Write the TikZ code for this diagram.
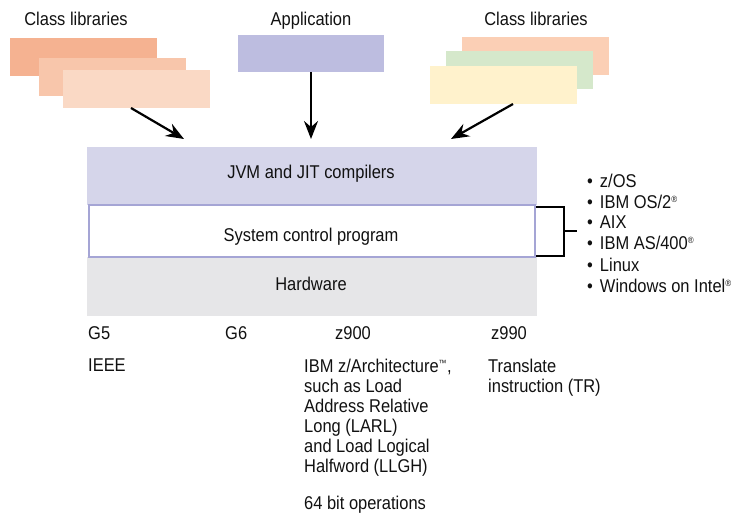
\documentclass[tikz,border=0pt]{standalone}
\usepackage{fontspec}
\setmainfont{Liberation Sans}[FakeStretch=0.89]
\usetikzlibrary{arrows.meta}
\definecolor{peachA}{HTML}{F5B291}
\definecolor{peachB}{HTML}{F8C6AB}
\definecolor{peachC}{HTML}{FAD9C5}
\definecolor{peachR}{HTML}{FBCFB5}
\definecolor{greenR}{HTML}{D5E8CB}
\definecolor{yellowR}{HTML}{FFF2CC}
\definecolor{appcol}{HTML}{BDBDE0}
\definecolor{jvmcol}{HTML}{D5D5EA}
\definecolor{hwcol}{HTML}{E6E6E8}
\definecolor{scpline}{HTML}{A5A5D5}
\definecolor{txt}{HTML}{111111}
\tikzset{
  lbl/.style={font=\fontsize{18.5}{20}\selectfont, text=txt, inner sep=0pt},
  arr/.style={line width=2.2pt, -{Stealth[length=18pt,width=14pt,inset=6pt]}},
  brk/.style={line width=2pt},
}
\newcommand{\regm}{\textsuperscript{\fontsize{9}{9}\selectfont ®}}
\newcommand{\tmk}{\textsuperscript{\fontsize{9}{9}\selectfont ™}}
\newcommand{\bul}{•\hspace{7pt}}
\begin{document}
\begin{tikzpicture}[x=1pt,y=-1pt]
\useasboundingbox (0,0) rectangle (740,513);
% left class libraries
\fill[peachA] (10,38) rectangle (157,76);
\fill[peachB] (39,58) rectangle (186,96);
\fill[peachC] (63,70) rectangle (210,108);
\coordinate (lsrc) at (131,108);
\node[lbl, anchor=base] (lcl) at (76,26) {Class libraries};
% application
\fill[appcol] (238,35) rectangle (384,72);
\coordinate (asrc) at (311,72);
\node[lbl, anchor=base] (app) at (311,26) {Application};
% right class libraries
\fill[peachR] (462,37) rectangle (609,75);
\fill[greenR] (446,51) rectangle (593,89);
\fill[yellowR] (430,66) rectangle (577,104);
\coordinate (rsrc) at (513,104);
\node[lbl, anchor=base] (rcl) at (536,26) {Class libraries};
% stack
\fill[jvmcol] (87,147) rectangle (537,205);
\fill[hwcol] (87,257) rectangle (537,316);
\draw[scpline, line width=2pt, fill=white] (89,205.5) rectangle (535,257.5);
\node[lbl, anchor=base] (jvm) at (311,179) {JVM and JIT compilers};
\node[lbl, anchor=base] (scp) at (311,242) {System control program};
\node[lbl, anchor=base] (hw) at (311,291) {Hardware};
\coordinate (lt) at (184,139);
\coordinate (at) at (311,139);
\coordinate (rt) at (451,139);
\draw[arr] (lsrc) -- (lt);
\draw[arr] (asrc) -- (at);
\draw[arr] (rsrc) -- (rt);
% bracket
\coordinate (b1) at (536,207);
\coordinate (b2) at (564,207);
\coordinate (b3) at (564,256);
\coordinate (b4) at (536,256);
\coordinate (bm) at (564,231.5);
\coordinate (bs) at (577,231.5);
\draw[brk] (b1) -- (b2) -- (b3) -- (b4);
\draw[brk] (bm) -- (bs);
% OS list
\node[lbl, anchor=base west] (os1) at (587,188) {\bul z/OS};
\node[lbl, anchor=base west] (os2) at (587,209) {\bul IBM OS/2\regm};
\node[lbl, anchor=base west] (os3) at (587,229) {\bul AIX};
\node[lbl, anchor=base west] (os4) at (587,250) {\bul IBM AS/400\regm};
\node[lbl, anchor=base west] (os5) at (587,272) {\bul Linux};
\node[lbl, anchor=base west] (os6) at (587,293) {\bul Windows on Intel\regm};
% bottom labels
\node[lbl, anchor=base west] (g5) at (88,340) {G5};
\node[lbl, anchor=base west] (g6) at (225,340) {G6};
\node[lbl, anchor=base west] (z900) at (335,340) {z900};
\node[lbl, anchor=base west] (z990) at (491,340) {z990};
\node[lbl, anchor=base west] (ieee) at (88,372) {IEEE};
\node[lbl, anchor=north west, align=left] (zarch) at (304,359) {IBM z/Architecture\tmk,\\such as Load\\Address Relative\\Long (LARL)\\and Load Logical\\Halfword (LLGH)};
\node[lbl, anchor=north west, align=left] (tr) at (488,359) {Translate\\instruction (TR)};
\node[lbl, anchor=base west] (b64) at (304,509) {64 bit operations};
\end{tikzpicture}
\end{document}
